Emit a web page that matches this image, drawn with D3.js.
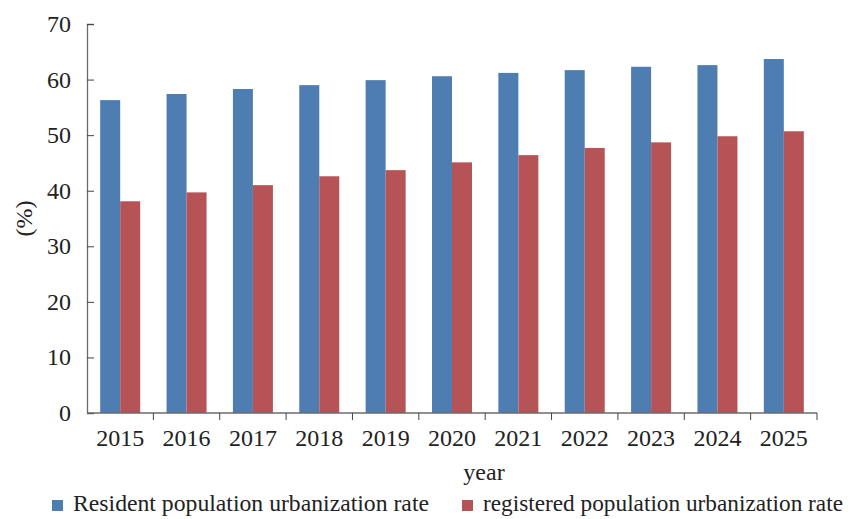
<!DOCTYPE html>
<html>
<head>
<meta charset="utf-8">
<script src="https://cdn.jsdelivr.net/npm/d3@7"></script>
<style>
  html, body { margin: 0; padding: 0; background: #fff; }
  svg { display: block; font-family: "Liberation Serif", "Times New Roman", serif; }
</style>
</head>
<body>
<svg id="chart" width="853" height="519"></svg>
<script>
// Urbanization rates by year (%)
const years = ["2015", "2016", "2017", "2018", "2019", "2020", "2021", "2022", "2023", "2024", "2025"];
const residentRate = [56.3, 57.4, 58.3, 59.0, 59.9, 60.6, 61.2, 61.7, 62.3, 62.6, 63.7];
const registeredRate = [38.1, 39.7, 41.0, 42.6, 43.7, 45.1, 46.4, 47.7, 48.7, 49.8, 50.7];
const seriesNames = ["Resident population urbanization rate", "registered population urbanization rate"];
const yTicks = [0, 10, 20, 30, 40, 50, 60, 70];

const colors = ["#4E7DB1", "#B65356"];
const svg = d3.select("#chart");
const margin = { left: 87, right: 36, top: 24, bottom: 106 };
const W = 853, H = 519;
const fs = 24;

const x = d3.scaleBand().domain(years).range([margin.left, W - margin.right]).paddingInner(0).paddingOuter(0);
const y = d3.scaleLinear().domain([0, 70]).range([H - margin.bottom, margin.top]);
const barW = 20;

// Bars
const series = [residentRate, registeredRate];
series.forEach((vals, si) => {
  svg.append("g").selectAll("rect").data(vals).join("rect")
    .attr("x", (d, i) => x(years[i]) + x.bandwidth() / 2 - barW + si * barW)
    .attr("y", d => y(d))
    .attr("width", barW)
    .attr("height", d => y(0) - y(d))
    .attr("fill", colors[si]);
});

// Y axis: ticks point into the plot
const yAxis = svg.append("g").attr("transform", `translate(${margin.left},0)`)
  .call(d3.axisRight(y).tickValues(yTicks).tickSize(7).tickFormat(""));
yAxis.select(".domain").attr("stroke", "#6b6b6b").attr("stroke-width", 1.3);
yAxis.selectAll(".tick line").attr("stroke", "#444");
svg.append("g").selectAll("text").data(yTicks).join("text")
  .attr("x", margin.left - 16).attr("y", d => y(d) + 8)
  .attr("text-anchor", "end").attr("font-size", fs).attr("fill", "#222")
  .text(d => d);

// X axis: ticks between categories, pointing down
const xBoundaries = years.map(yr => x(yr)).concat([x(years[years.length - 1]) + x.bandwidth()]);
const xAxis = svg.append("g");
xAxis.append("line")
  .attr("x1", margin.left).attr("x2", W - margin.right)
  .attr("y1", y(0)).attr("y2", y(0))
  .attr("stroke", "#6b6b6b").attr("stroke-width", 1.3);
xAxis.selectAll("line.tk").data(xBoundaries.slice(1)).join("line").attr("class", "tk")
  .attr("x1", d => d).attr("x2", d => d)
  .attr("y1", y(0)).attr("y2", y(0) + 7)
  .attr("stroke", "#444");
svg.append("g").selectAll("text").data(years).join("text")
  .attr("x", d => x(d) + x.bandwidth() / 2)
  .attr("y", y(0) + 33)
  .attr("text-anchor", "middle").attr("font-size", fs).attr("fill", "#222")
  .text(d => d);

// Axis titles
svg.append("text").attr("x", 484).attr("y", 480)
  .attr("text-anchor", "middle").attr("font-size", fs).attr("fill", "#222").text("year");
svg.append("text").attr("transform", `translate(32,${(y(0) + y(70)) / 2}) rotate(-90)`)
  .attr("text-anchor", "middle").attr("font-size", fs).attr("fill", "#222").text("(%)");

// Legend
const legendX = [52, 462];
const legendTextW = [356, 360];
seriesNames.forEach((name, i) => {
  svg.append("rect").attr("x", legendX[i]).attr("y", 500).attr("width", 11).attr("height", 11).attr("fill", colors[i]);
  svg.append("text").attr("x", legendX[i] + 21).attr("y", 511)
    .attr("font-size", 23).attr("fill", "#222")
    .attr("textLength", legendTextW[i]).attr("lengthAdjust", "spacingAndGlyphs")
    .text(name);
});
</script>
</body>
</html>
